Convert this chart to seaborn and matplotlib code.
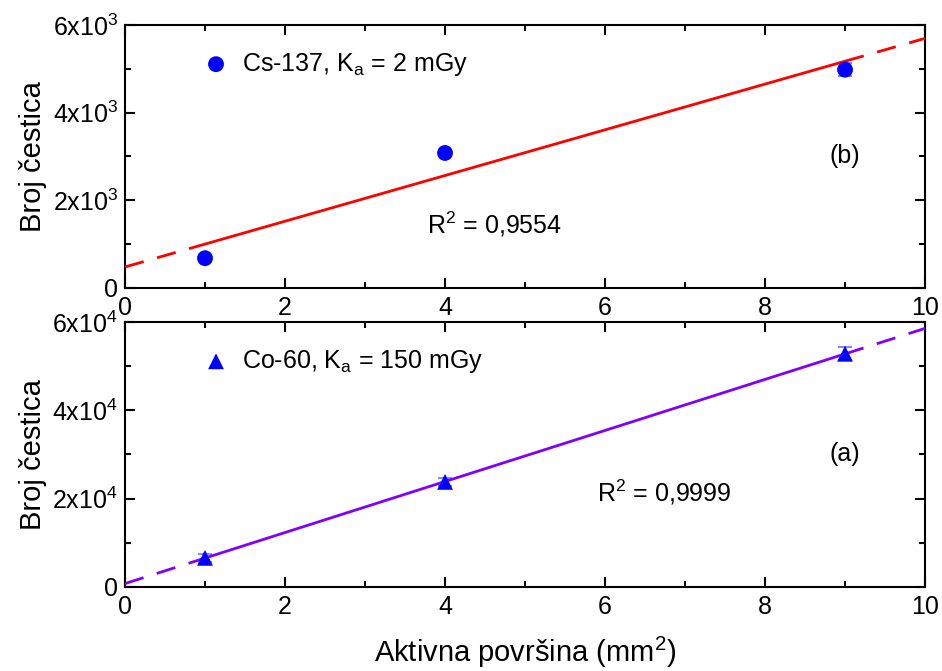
import numpy as np
import pandas as pd
import seaborn as sns
import matplotlib.pyplot as plt
from matplotlib.ticker import MultipleLocator

# data
area = [1, 4, 9]
cs_counts = [680, 3080, 4980]
cs_err = [40, 40, 150]
co_counts = [6600, 23800, 52800]
co_err = [900, 900, 1500]

x_ticks = [0, 2, 4, 6, 8, 10]
cs_yticks = [0, 2000, 4000, 6000]
cs_ylabels = ['0', r'2x10$^3$', r'4x10$^3$', r'6x10$^3$']
co_yticks = [0, 20000, 40000, 60000]
co_ylabels = ['0', r'2x10$^4$', r'4x10$^4$', r'6x10$^4$']

sns.set_style("ticks")
plt.rcParams['font.family'] = ['Liberation Sans', 'DejaVu Sans']
plt.rcParams['mathtext.fontset'] = 'custom'
plt.rcParams['mathtext.rm'] = 'Liberation Sans'
plt.rcParams['mathtext.it'] = 'Liberation Sans:italic'
plt.rcParams['axes.linewidth'] = 1.5
for key in ['text.color', 'axes.labelcolor', 'xtick.color', 'ytick.color', 'axes.edgecolor']:
    plt.rcParams[key] = 'black'

fig = plt.figure(figsize=(9.42, 6.71), dpi=100)
ax_top = fig.add_axes([0.1327, 0.5708, 0.8493, 0.3920])
ax_bot = fig.add_axes([0.1327, 0.1252, 0.8493, 0.3950])


def draw_panel(ax, counts, err, marker, line_color, label, r2_text, r2_pos, tag, yticks, ylabels, ymax):
    df = pd.DataFrame({"x": area, "y": counts})
    slope, icpt = np.polyfit(df["x"], df["y"], 1)
    fit_in = pd.DataFrame({"x": [area[0], area[-1]]})
    fit_in["y"] = icpt + slope * fit_in["x"]
    ext_lo = pd.DataFrame({"x": [0, area[0]]})
    ext_lo["y"] = icpt + slope * ext_lo["x"]
    ext_hi = pd.DataFrame({"x": [area[-1], 10]})
    ext_hi["y"] = icpt + slope * ext_hi["x"]

    ax.errorbar(df["x"], df["y"], yerr=err, fmt='none', ecolor='#6f6fff',
                elinewidth=1.2, capsize=5, capthick=1.2, zorder=2)
    sns.lineplot(data=fit_in, x="x", y="y", ax=ax, color=line_color, linewidth=2, zorder=3)
    sns.lineplot(data=ext_lo, x="x", y="y", ax=ax, color=line_color, linewidth=2, zorder=3)
    ax.lines[-1].set_dashes([7, 5])
    sns.lineplot(data=ext_hi, x="x", y="y", ax=ax, color=line_color, linewidth=2, zorder=3)
    ax.lines[-1].set_dashes([7, 5])
    sns.scatterplot(data=df, x="x", y="y", ax=ax, marker=marker, color='#0000ff',
                    s=130, edgecolor='none', zorder=4, label=label)

    ax.set_xlim(0, 10)
    ax.set_ylim(0, ymax)
    ax.set_xticks(x_ticks)
    ax.set_xticklabels([str(t) for t in x_ticks])
    ax.xaxis.set_minor_locator(MultipleLocator(1))
    ax.set_yticks(yticks)
    ax.set_yticklabels(ylabels)
    ax.yaxis.set_minor_locator(MultipleLocator(yticks[1] / 2))
    ax.tick_params(which='both', direction='in', top=True, right=True, width=1.5, labelsize=18)
    ax.tick_params(which='major', length=7)
    ax.tick_params(which='minor', length=4)
    ax.tick_params(axis='x', pad=6)
    ax.tick_params(axis='y', pad=5)
    ax.set_ylabel("Broj čestica", fontsize=21, labelpad=4)
    ax.set_xlabel("")

    ax.text(r2_pos[0], r2_pos[1], r2_text, fontsize=18, va='center', ha='left')
    ax.text(9, tag, "(b)" if ax is ax_top else "(a)", fontsize=18, va='center', ha='center')
    ax.legend(loc='upper left', bbox_to_anchor=(0.07, 0.94), frameon=False, fontsize=18,
              handletextpad=0.05, borderaxespad=0)


draw_panel(ax_top, cs_counts, cs_err, 'o', '#ff0000', r'Cs-137, K$_\mathrm{a}$ = 2 mGy',
           r'R$^2$ = 0,9554', (3.78, 1450), 3000, cs_yticks, cs_ylabels, 6000)
draw_panel(ax_bot, co_counts, co_err, '^', '#8000ff', r'Co-60, K$_\mathrm{a}$ = 150 mGy',
           r'R$^2$ = 0,9999', (5.9, 21500), 30000, co_yticks, co_ylabels, 60000)

ax_bot.set_xlabel(r"Aktivna površina (mm$^2$)", fontsize=21, labelpad=11)

fig.savefig("out.png", dpi=100)
